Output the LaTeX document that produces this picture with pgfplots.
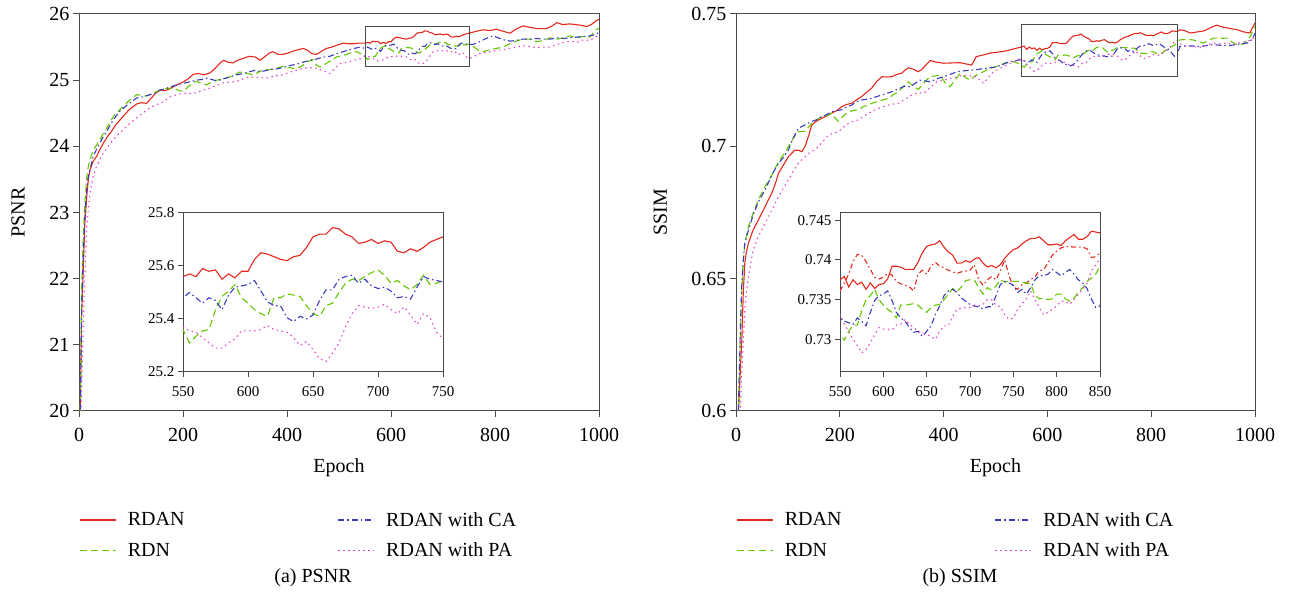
\documentclass[border=0pt]{standalone}
\usepackage{fontspec}
\setmainfont{Liberation Serif}
\usepackage{pgfplots}
\usepackage{pgfplotstable}
\pgfplotsset{compat=1.18}
\definecolor{cR}{RGB}{228,40,30}
\definecolor{cG}{RGB}{100,200,0}
\definecolor{cB}{RGB}{60,60,190}
\definecolor{cP}{RGB}{225,70,200}
\definecolor{axc}{RGB}{75,75,75}

% ---------------- PSNR ----------------
\pgfplotstableread[row sep=\\]{x y\\
1 19.0\\3 20.3\\5 21.4\\8 22.1\\11 22.8\\15 23.25\\18 23.5\\21 23.64\\27 23.77\\34 23.85\\40 23.95\\47 24.05\\55 24.15\\62 24.22\\70 24.32\\79 24.40\\88 24.48\\96 24.55\\104 24.60\\111 24.64\\120 24.66\\130 24.65\\138 24.72\\147 24.80\\156 24.85\\165 24.84\\175 24.87\\188 24.93\\200 24.97\\210 25.02\\220 25.09\\230 25.10\\240 25.08\\252 25.11\\262 25.18\\270 25.25\\278 25.30\\287 25.27\\296 25.26\\305 25.30\\316 25.33\\327 25.36\\339 25.35\\348 25.30\\358 25.36\\366 25.41\\373 25.43\\383 25.39\\392 25.39\\402 25.41\\412 25.44\\422 25.46\\431 25.48\\440 25.45\\448 25.40\\457 25.39\\467 25.44\\476 25.48\\486 25.50\\497 25.53\\508 25.56\\518 25.55\\528 25.55\\538 25.56\\545 25.56\\
550 25.56\\555 25.57\\560 25.56\\565 25.59\\570 25.58\\575 25.585\\580 25.55\\585 25.57\\590 25.555\\595 25.58\\600 25.58\\605 25.625\\610 25.65\\615 25.645\\620 25.635\\625 25.625\\630 25.62\\635 25.635\\640 25.64\\645 25.67\\650 25.71\\655 25.72\\660 25.72\\665 25.745\\670 25.74\\675 25.72\\680 25.71\\685 25.685\\690 25.69\\695 25.70\\700 25.685\\705 25.695\\710 25.69\\715 25.655\\720 25.65\\725 25.665\\730 25.655\\735 25.67\\740 25.69\\745 25.70\\750 25.71\\
760 25.73\\770 25.75\\777 25.76\\790 25.75\\803 25.77\\815 25.74\\829 25.71\\840 25.77\\854 25.82\\866 25.80\\880 25.78\\890 25.78\\899 25.78\\910 25.82\\919 25.87\\930 25.84\\944 25.85\\955 25.84\\965 25.83\\976 25.81\\985 25.84\\995 25.90\\1000 25.92\\
}\psnrR
\pgfplotstableread[row sep=\\]{x y\\
1 19.0\\3 20.5\\5 21.8\\8 22.6\\11 23.1\\15 23.54\\18 23.7\\21 23.79\\27 23.94\\34 24.02\\40 24.10\\47 24.20\\55 24.30\\66 24.45\\75 24.53\\85 24.60\\95 24.68\\104 24.74\\111 24.78\\120 24.77\\128 24.76\\136 24.78\\146 24.82\\156 24.85\\165 24.87\\175 24.88\\185 24.87\\193 24.84\\200 24.83\\210 24.90\\218 24.96\\226 24.98\\236 24.95\\245 24.93\\255 24.97\\265 25.00\\278 25.02\\290 25.05\\300 25.08\\308 25.12\\316 25.12\\325 25.10\\335 25.08\\345 25.12\\355 25.16\\367 25.16\\380 25.18\\392 25.21\\405 25.19\\418 25.17\\430 25.22\\440 25.28\\450 25.31\\457 25.22\\465 25.20\\475 25.25\\485 25.30\\495 25.35\\505 25.37\\515 25.39\\525 25.42\\534 25.43\\542 25.40\\
550 25.36\\555 25.31\\560 25.335\\565 25.355\\570 25.36\\575 25.435\\580 25.485\\585 25.505\\590 25.53\\595 25.48\\600 25.46\\605 25.435\\610 25.42\\615 25.41\\620 25.48\\625 25.48\\630 25.495\\635 25.49\\640 25.485\\645 25.45\\650 25.42\\655 25.41\\660 25.45\\665 25.46\\670 25.50\\675 25.535\\680 25.55\\685 25.545\\690 25.56\\695 25.575\\700 25.585\\705 25.565\\710 25.535\\715 25.545\\720 25.525\\725 25.51\\730 25.53\\735 25.565\\740 25.53\\745 25.535\\750 25.545\\
760 25.50\\770 25.44\\777 25.43\\790 25.46\\803 25.48\\815 25.50\\828 25.55\\841 25.59\\853 25.62\\867 25.62\\880 25.58\\893 25.60\\906 25.64\\920 25.62\\932 25.64\\944 25.67\\957 25.64\\970 25.66\\982 25.65\\995 25.77\\1000 25.78\\
}\psnrG
\pgfplotstableread[row sep=\\]{x y\\
1 19.0\\3 20.3\\5 21.5\\8 22.3\\11 22.9\\15 23.39\\18 23.55\\21 23.64\\27 23.84\\34 23.96\\40 24.05\\47 24.15\\55 24.25\\66 24.40\\77 24.52\\92 24.62\\102 24.68\\111 24.73\\124 24.75\\136 24.78\\146 24.80\\156 24.85\\166 24.87\\175 24.90\\185 24.92\\194 24.94\\205 24.96\\215 24.98\\226 25.00\\236 25.01\\245 25.03\\255 25.01\\265 24.99\\278 25.02\\290 25.05\\303 25.08\\316 25.10\\329 25.13\\339 25.15\\348 25.13\\357 25.14\\367 25.16\\380 25.17\\392 25.19\\405 25.22\\418 25.24\\430 25.27\\444 25.30\\457 25.32\\470 25.35\\482 25.36\\495 25.40\\508 25.43\\520 25.46\\530 25.48\\540 25.50\\545 25.49\\
550 25.48\\555 25.50\\560 25.48\\565 25.46\\570 25.48\\575 25.47\\580 25.435\\585 25.49\\590 25.52\\595 25.525\\600 25.53\\605 25.545\\610 25.505\\615 25.465\\620 25.45\\625 25.45\\630 25.405\\635 25.39\\640 25.41\\645 25.40\\650 25.415\\655 25.47\\660 25.51\\665 25.51\\670 25.55\\675 25.56\\680 25.565\\685 25.535\\690 25.55\\695 25.525\\700 25.515\\705 25.52\\710 25.505\\715 25.48\\720 25.485\\725 25.475\\730 25.52\\735 25.56\\740 25.55\\745 25.545\\750 25.54\\
757 25.54\\765 25.56\\775 25.60\\786 25.64\\796 25.67\\806 25.64\\817 25.61\\829 25.59\\840 25.60\\853 25.62\\867 25.62\\880 25.63\\893 25.62\\906 25.62\\920 25.64\\932 25.63\\944 25.64\\957 25.65\\970 25.66\\982 25.67\\995 25.69\\1000 25.73\\
}\psnrB
\pgfplotstableread[row sep=\\]{x y\\
2 19.0\\5 20.3\\8 21.2\\11 22.0\\15 22.79\\18 23.05\\21 23.29\\27 23.54\\34 23.70\\40 23.80\\47 23.90\\56 24.00\\66 24.10\\75 24.18\\85 24.25\\98 24.35\\111 24.43\\124 24.51\\136 24.58\\149 24.63\\162 24.67\\175 24.75\\188 24.78\\200 24.80\\213 24.80\\226 24.81\\239 24.85\\252 24.88\\265 24.92\\278 24.96\\290 24.97\\303 24.98\\316 25.02\\329 25.05\\345 25.04\\360 25.03\\375 25.06\\392 25.08\\405 25.12\\418 25.15\\431 25.18\\444 25.19\\457 25.18\\470 25.14\\483 25.10\\492 25.18\\502 25.25\\515 25.27\\528 25.30\\540 25.32\\545 25.35\\
550 25.37\\555 25.355\\560 25.35\\565 25.33\\570 25.31\\575 25.29\\580 25.29\\585 25.31\\590 25.325\\595 25.355\\600 25.355\\605 25.355\\610 25.36\\615 25.375\\620 25.36\\625 25.355\\630 25.35\\635 25.33\\640 25.30\\645 25.315\\650 25.285\\655 25.25\\660 25.24\\665 25.27\\670 25.31\\675 25.37\\680 25.42\\685 25.45\\690 25.445\\695 25.44\\700 25.445\\705 25.455\\710 25.435\\715 25.42\\720 25.445\\725 25.415\\730 25.38\\735 25.42\\740 25.405\\745 25.35\\750 25.325\\
760 25.36\\770 25.40\\777 25.41\\790 25.43\\803 25.45\\816 25.46\\828 25.48\\841 25.50\\854 25.52\\867 25.51\\880 25.49\\893 25.50\\906 25.50\\919 25.54\\932 25.57\\944 25.59\\957 25.57\\970 25.61\\982 25.60\\995 25.66\\1000 25.68\\
}\psnrP

% ---------------- SSIM ----------------
\pgfplotstableread[row sep=\\]{x y\\
3 0.59\\6 0.605\\9 0.618\\11 0.6257\\14 0.6446\\17 0.656\\20 0.660\\24 0.6635\\33 0.6684\\43 0.6722\\56 0.6772\\69 0.6824\\76 0.686\\82 0.6899\\90 0.6925\\101 0.6961\\113 0.6985\\120 0.6985\\127 0.698\\133 0.700\\140 0.704\\146 0.7081\\155 0.7095\\165 0.7106\\175 0.7115\\184 0.7125\\194 0.7135\\204 0.715\\213 0.7158\\223 0.7163\\232 0.7175\\242 0.7188\\252 0.7205\\261 0.7219\\271 0.7245\\281 0.7263\\290 0.7262\\300 0.7263\\310 0.7272\\319 0.7276\\326 0.7288\\332 0.7297\\341 0.7292\\351 0.7282\\358 0.729\\364 0.7303\\374 0.7324\\386 0.7318\\400 0.7314\\415 0.7315\\432 0.7316\\444 0.7311\\454 0.7307\\463 0.7339\\476 0.7345\\489 0.7352\\505 0.7356\\522 0.7361\\535 0.7368\\547 0.7374\\
550 0.7375\\555 0.7379\\560 0.7366\\565 0.7375\\570 0.7369\\575 0.7372\\580 0.7363\\585 0.7371\\590 0.7364\\595 0.7369\\600 0.7370\\605 0.7376\\610 0.7392\\615 0.7392\\620 0.7391\\625 0.7388\\630 0.7388\\635 0.7388\\640 0.7397\\645 0.7409\\650 0.7417\\655 0.7419\\660 0.7420\\665 0.7424\\670 0.7416\\675 0.7410\\680 0.7406\\685 0.7396\\690 0.7396\\695 0.7399\\700 0.7397\\705 0.7401\\710 0.7403\\715 0.7396\\720 0.7391\\725 0.7393\\730 0.7390\\735 0.7394\\740 0.7402\\745 0.7408\\750 0.7413\\755 0.7415\\760 0.7420\\765 0.7424\\770 0.7427\\775 0.7427\\780 0.7429\\785 0.7424\\790 0.7419\\795 0.7419\\800 0.7420\\805 0.7418\\810 0.7424\\815 0.7428\\820 0.7432\\825 0.7426\\830 0.7426\\835 0.7429\\840 0.7436\\845 0.7435\\850 0.7434\\
855 0.7440\\865 0.7437\\875 0.7428\\888 0.7432\\901 0.7436\\914 0.7448\\926 0.7458\\939 0.7450\\952 0.7445\\965 0.7441\\977 0.7433\\990 0.7428\\1000 0.7467\\
}\ssimR
\pgfplotstableread[row sep=\\]{x y\\
550 0.7361\\555 0.7371\\560 0.7382\\565 0.7398\\570 0.7407\\575 0.7406\\580 0.7398\\585 0.7388\\590 0.7378\\595 0.7376\\600 0.7378\\605 0.7383\\610 0.7381\\615 0.7373\\620 0.7370\\625 0.7368\\630 0.7366\\635 0.7361\\640 0.7382\\645 0.7387\\650 0.7382\\655 0.7392\\660 0.7397\\665 0.7392\\670 0.7390\\675 0.7387\\680 0.7385\\685 0.7383\\690 0.7385\\695 0.7386\\700 0.7387\\705 0.7394\\710 0.7375\\715 0.7368\\720 0.7375\\725 0.7379\\730 0.7375\\735 0.7386\\740 0.7400\\745 0.7380\\750 0.7366\\755 0.7363\\760 0.7369\\765 0.7371\\770 0.7375\\775 0.7379\\780 0.7386\\785 0.7388\\790 0.7396\\795 0.7406\\800 0.7411\\805 0.7415\\810 0.7417\\815 0.7417\\820 0.7416\\825 0.7416\\830 0.7416\\835 0.7414\\840 0.7403\\845 0.7404\\850 0.7409\\
}\ssimRd
\pgfplotstableread[row sep=\\]{x y\\
3 0.59\\6 0.61\\9 0.632\\11 0.6446\\14 0.656\\17 0.6635\\24 0.6697\\33 0.6748\\43 0.6797\\56 0.6848\\69 0.6892\\82 0.6942\\92 0.697\\101 0.6999\\110 0.703\\120 0.7055\\133 0.7057\\146 0.7087\\155 0.710\\165 0.7112\\175 0.7115\\184 0.7125\\190 0.711\\197 0.7094\\207 0.7115\\217 0.7131\\226 0.7135\\236 0.7138\\245 0.7150\\255 0.7156\\265 0.7165\\274 0.7169\\284 0.7176\\294 0.7181\\303 0.7195\\313 0.7206\\322 0.7225\\332 0.7244\\341 0.7228\\351 0.7215\\358 0.723\\364 0.7244\\374 0.7263\\384 0.7266\\393 0.7269\\403 0.724\\412 0.7225\\422 0.725\\432 0.7276\\441 0.7262\\451 0.7250\\460 0.7265\\470 0.7276\\480 0.7285\\489 0.7294\\499 0.7300\\509 0.7307\\518 0.7315\\528 0.7320\\538 0.7318\\545 0.7312\\
550 0.7306\\555 0.7299\\560 0.7310\\565 0.7318\\570 0.7318\\575 0.7336\\580 0.7350\\585 0.7355\\590 0.7363\\595 0.7350\\600 0.7343\\605 0.7338\\610 0.7334\\615 0.7327\\620 0.7343\\625 0.7343\\630 0.7344\\635 0.7345\\640 0.7343\\645 0.7338\\650 0.7334\\655 0.7340\\660 0.7343\\665 0.7344\\670 0.7350\\675 0.7357\\680 0.7364\\685 0.7360\\690 0.7366\\695 0.7374\\700 0.7375\\705 0.7375\\710 0.7365\\715 0.7357\\720 0.7365\\725 0.7362\\730 0.7367\\735 0.7375\\740 0.7372\\745 0.7373\\750 0.7373\\755 0.7373\\760 0.7372\\765 0.7371\\770 0.7370\\775 0.7355\\780 0.7351\\785 0.7352\\790 0.7350\\795 0.7351\\800 0.7357\\805 0.7357\\810 0.7351\\815 0.7348\\820 0.7352\\825 0.7359\\830 0.7365\\835 0.7373\\840 0.7377\\845 0.7382\\850 0.7392\\
855 0.7402\\868 0.7404\\881 0.7402\\891 0.7395\\901 0.7390\\910 0.7400\\920 0.7409\\933 0.7408\\946 0.7409\\955 0.7395\\965 0.7384\\978 0.7387\\991 0.7416\\1000 0.7454\\
}\ssimG
\pgfplotstableread[row sep=\\]{x y\\
3 0.59\\6 0.612\\9 0.635\\11 0.6471\\14 0.657\\17 0.6635\\24 0.6684\\33 0.674\\43 0.679\\56 0.6835\\69 0.6892\\82 0.6936\\92 0.696\\101 0.6986\\110 0.703\\120 0.7068\\133 0.7081\\146 0.7094\\155 0.7100\\165 0.7112\\175 0.7120\\184 0.7131\\194 0.7135\\204 0.7138\\213 0.7148\\223 0.7156\\232 0.7168\\242 0.7175\\252 0.7178\\261 0.7181\\271 0.7188\\281 0.7194\\290 0.7200\\300 0.7206\\310 0.7215\\319 0.7222\\326 0.7228\\335 0.7225\\345 0.7238\\354 0.7250\\364 0.7247\\374 0.7244\\387 0.7255\\400 0.7263\\413 0.7272\\426 0.7282\\438 0.7285\\451 0.7288\\464 0.7290\\477 0.7294\\490 0.7297\\502 0.7300\\515 0.7310\\528 0.7320\\538 0.7324\\545 0.7326\\
550 0.7327\\555 0.7323\\560 0.7321\\565 0.7319\\570 0.7327\\575 0.7323\\580 0.7317\\585 0.7334\\590 0.7349\\595 0.7355\\600 0.7357\\605 0.7361\\610 0.7349\\615 0.7334\\620 0.7327\\625 0.7323\\630 0.7315\\635 0.7309\\640 0.7310\\645 0.7304\\650 0.7310\\655 0.7317\\660 0.7331\\665 0.7342\\670 0.7355\\675 0.7361\\680 0.7363\\685 0.7359\\690 0.7352\\695 0.7348\\700 0.7344\\705 0.7342\\710 0.7341\\715 0.7338\\720 0.7341\\725 0.7341\\730 0.7355\\735 0.7369\\740 0.7373\\745 0.7371\\750 0.7368\\755 0.7359\\760 0.7363\\765 0.7357\\770 0.7365\\775 0.7375\\780 0.7380\\785 0.7380\\790 0.7382\\795 0.7388\\800 0.7384\\805 0.7380\\810 0.7384\\815 0.7388\\820 0.7382\\825 0.7375\\830 0.7371\\835 0.7364\\840 0.7351\\845 0.7340\\850 0.7342\\
855 0.7377\\868 0.7380\\881 0.7379\\894 0.7377\\907 0.7381\\920 0.7384\\933 0.7382\\946 0.7380\\959 0.7383\\972 0.7387\\985 0.7390\\995 0.7405\\1000 0.7428\\
}\ssimB
\pgfplotstableread[row sep=\\]{x y\\
6 0.59\\9 0.605\\12 0.618\\14 0.6257\\17 0.6382\\20 0.645\\24 0.6508\\33 0.6608\\43 0.6659\\56 0.6709\\69 0.676\\82 0.681\\92 0.6845\\101 0.6873\\110 0.6905\\120 0.6936\\130 0.6955\\140 0.6974\\150 0.6985\\159 0.6999\\169 0.7022\\178 0.7043\\188 0.7050\\197 0.7055\\207 0.7072\\217 0.7087\\226 0.7094\\236 0.7100\\245 0.7112\\255 0.7125\\265 0.7135\\274 0.7143\\284 0.7150\\294 0.7156\\303 0.7160\\313 0.7162\\326 0.7178\\339 0.7194\\351 0.7203\\361 0.7200\\374 0.7222\\387 0.7244\\400 0.7250\\412 0.7256\\425 0.7262\\438 0.7269\\451 0.7266\\464 0.7263\\470 0.7250\\477 0.7238\\486 0.7260\\496 0.7282\\509 0.7295\\522 0.7307\\532 0.7316\\541 0.7326\\545 0.7330\\
550 0.7331\\555 0.7319\\560 0.7310\\565 0.7300\\570 0.7292\\575 0.7283\\580 0.7287\\585 0.7296\\590 0.7306\\595 0.7315\\600 0.7313\\605 0.7313\\610 0.7312\\615 0.7318\\620 0.7319\\625 0.7325\\630 0.7319\\635 0.7315\\640 0.7310\\645 0.7308\\650 0.7306\\655 0.7304\\660 0.7300\\665 0.7310\\670 0.7317\\675 0.7317\\680 0.7329\\685 0.7338\\690 0.7339\\695 0.7340\\700 0.7340\\705 0.7343\\710 0.7342\\715 0.7344\\720 0.7350\\725 0.7350\\730 0.7343\\735 0.7341\\740 0.7331\\745 0.7325\\750 0.7327\\755 0.7338\\760 0.7345\\765 0.7351\\770 0.7361\\775 0.7350\\780 0.7340\\785 0.7331\\790 0.7334\\795 0.7338\\800 0.7342\\805 0.7348\\810 0.7348\\815 0.7344\\820 0.7350\\825 0.7357\\830 0.7363\\835 0.7371\\840 0.7386\\845 0.7394\\850 0.7401\\
858 0.7385\\868 0.7378\\881 0.7377\\894 0.7373\\907 0.7382\\920 0.7390\\933 0.7388\\946 0.7390\\959 0.7386\\972 0.7392\\985 0.7396\\995 0.7405\\1000 0.7416\\
}\ssimP

\pgfplotsset{
 base/.style={scale only axis, axis line style={draw=axc, line width=1bp},
   tick style={draw=axc, line width=1bp}, major tick length=6bp, tick align=outside,
   xtick pos=left, ytick pos=left,
   /pgf/number format/assume math mode=true, /pgf/number format/1000 sep={},
   /pgf/number format/precision=3,
   tick label style={font=\fontsize{20bp}{24bp}\selectfont},
   xticklabel style={yshift=-8bp}},
 sR/.style={cR, line width=1.1bp, solid},
 sRd/.style={cR, line width=1.1bp, dash pattern=on 5bp off 3bp on 1.5bp off 3bp},
 sG/.style={cG, line width=1.1bp, dash pattern=on 7bp off 4bp},
 sB/.style={cB, line width=1.1bp, dash pattern=on 6bp off 3bp on 1.5bp off 3bp},
 sP/.style={cP, line width=1.1bp, dash pattern=on 1.5bp off 3.5bp},
 leg/.style={legend columns=2, transpose legend, legend cell align=left,
   legend image code/.code={\draw[##1, line width=1.7bp] (0bp,0bp) -- (36bp,0bp);},
   legend style={draw=none, fill=none, at={(axis description cs:0,-0.25)},
     anchor=north west, inner sep=0pt, font=\fontsize{20bp}{24bp}\selectfont,
     /tikz/every even column/.append style={column sep=151bp},
     /tikz/every odd column/.append style={column sep=9bp}, row sep=11bp}},
 inset/.style={base, tick label style={font=\fontsize{15bp}{18bp}\selectfont},
   xticklabel style={yshift=2bp},
   axis background/.style={fill=white}, major tick length=5bp},
}

\begin{document}
\begin{tikzpicture}
\path[use as bounding box] (0bp,0bp) rectangle (1293bp,604bp);
% ===== PSNR main =====
\begin{axis}[base, leg, at={(79bp,193bp)}, anchor=south west, width=520bp, height=397bp,
  xmin=0, xmax=1000, ymin=20, ymax=26, xtick={0,200,...,1000}, ytick={20,21,...,26},
  xlabel={Epoch}, ylabel={PSNR},
  every axis x label/.style={at={(axis description cs:0.5,-0.142)}, anchor=center, font=\fontsize{20bp}{24bp}\selectfont},
  every axis y label/.style={at={(axis description cs:-0.117,0.5)}, rotate=90, anchor=center, font=\fontsize{20bp}{24bp}\selectfont}]
\addplot[sR] table {\psnrR}; \addlegendentry{RDAN}
\addplot[sG] table {\psnrG}; \addlegendentry{RDN}
\addplot[sB] table {\psnrB}; \addlegendentry{RDAN with CA}
\addplot[sP] table {\psnrP}; \addlegendentry{RDAN with PA}
\draw[axc, line width=1bp] (axis cs:550,25.2) rectangle (axis cs:750,25.81);
\end{axis}
% ===== PSNR inset =====
\begin{axis}[inset, at={(183bp,232bp)}, anchor=south west, width=260bp, height=159bp,
  xmin=550, xmax=750, ymin=25.2, ymax=25.8, xtick={550,600,...,750}, ytick={25.2,25.4,25.6,25.8}]
\addplot[sR] table {\psnrR};
\addplot[sG] table {\psnrG};
\addplot[sB] table {\psnrB};
\addplot[sP] table {\psnrP};
\end{axis}
% ===== SSIM main =====
\begin{axis}[base, leg, at={(736bp,193bp)}, anchor=south west, width=519bp, height=397bp,
  xmin=0, xmax=1000, ymin=0.6, ymax=0.75, xtick={0,200,...,1000}, ytick={0.6,0.65,0.7,0.75},
  xlabel={Epoch}, ylabel={SSIM},
  every axis x label/.style={at={(axis description cs:0.5,-0.142)}, anchor=center, font=\fontsize{20bp}{24bp}\selectfont},
  every axis y label/.style={at={(axis description cs:-0.146,0.5)}, rotate=90, anchor=center, font=\fontsize{20bp}{24bp}\selectfont}]
\addplot[sR] table {\ssimR}; \addlegendentry{RDAN}
\addplot[sG] table {\ssimG}; \addlegendentry{RDN}
\addplot[sB] table {\ssimB}; \addlegendentry{RDAN with CA}
\addplot[sP] table {\ssimP}; \addlegendentry{RDAN with PA}
\draw[axc, line width=1bp] (axis cs:550,0.7263) rectangle (axis cs:850,0.7462);
\end{axis}
% ===== SSIM inset =====
\begin{axis}[inset, at={(840bp,232bp)}, anchor=south west, width=260bp, height=159bp,
  xmin=550, xmax=850, ymin=0.7259, ymax=0.7459, xtick={550,600,...,850}, ytick={0.73,0.735,0.74,0.745}]
\addplot[sRd] table {\ssimRd};
\addplot[sR] table {\ssimR};
\addplot[sG] table {\ssimG};
\addplot[sB] table {\ssimB};
\addplot[sP] table {\ssimP};
\end{axis}
\node[font=\fontsize{20bp}{24bp}\selectfont] at (313bp,26bp) {(a) PSNR};
\node[font=\fontsize{20bp}{24bp}\selectfont] at (960bp,26bp) {(b) SSIM};
\end{tikzpicture}
\end{document}
